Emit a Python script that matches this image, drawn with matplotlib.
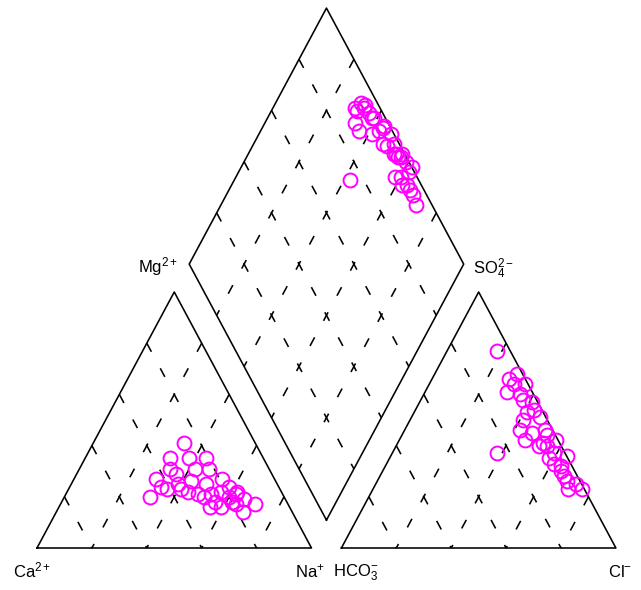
import numpy as np
import matplotlib.pyplot as plt

plt.rcParams['font.family'] = ['Liberation Sans', 'DejaVu Sans']
plt.rcParams['mathtext.fontset'] = 'custom'
plt.rcParams['mathtext.rm'] = 'Liberation Sans'
plt.rcParams['mathtext.it'] = 'Liberation Sans:italic'
plt.rcParams['lines.scale_dashes'] = False

# --- sample composition (meq %) ---
ca = np.array([43, 34, 49, 26, 43, 36, 41, 35, 27, 36, 36, 27, 31, 34, 21,
               22, 31, 26, 29, 26, 19, 22, 26, 25, 20, 17, 18, 12,
               20, 19, 15, 18, 29, 16])
mg = np.array([27, 35, 20, 41, 24, 31, 23, 29, 35, 25, 23, 31, 26, 22, 35,
               31, 21, 25, 20, 21, 27, 22, 18, 16, 18, 21, 14, 17,
               20, 17, 19, 24, 16, 22])
na = np.array([30, 31, 31, 33, 33, 33, 36, 36, 38, 39, 41, 42, 43, 44, 44,
               47, 48, 49, 51, 53, 54, 56, 56, 59, 62, 62, 68, 71,
               60, 64, 66, 58, 55, 62])
hco3 = np.array([9, 6, 9, 6, 12, 5, 5, 12, 5, 4, 8, 25, 5, 3, 2,
                 6, 1, 5, 2, 4, 3, 1, 2, 1, 0, 2, 5, 6,
                 6, 5, 5, 8, 3, 7])
so4 = np.array([61, 66, 50, 53, 42, 77, 58, 46, 64, 32, 45, 37, 60, 54, 68,
                41, 64, 40, 57, 37, 46, 42, 51, 23, 36, 25, 28, 23,
                33, 30, 26, 40, 44, 35])
cl = np.array([30, 28, 41, 41, 46, 18, 37, 42, 31, 64, 47, 38, 35, 43, 30,
               53, 35, 55, 41, 59, 51, 57, 47, 76, 64, 73, 67, 71,
               61, 65, 69, 52, 53, 58])

GAP = 0.109            # gap between the two triangles
H = np.sqrt(3) / 2
ticks = [0.2, 0.4, 0.6, 0.8]


# --- piper projection ---
def cation_xy(ca, mg, na):
    tot = ca + mg + na
    m, n = mg / tot, na / tot
    return n + m / 2, H * m


def anion_xy(hco3, so4, cl):
    tot = hco3 + so4 + cl
    s, c = so4 / tot, cl / tot
    return 1 + GAP + c + s / 2, H * s


def diamond_xy(ca, mg, na, hco3, so4, cl):
    n = na / (ca + mg + na)
    h = hco3 / (hco3 + so4 + cl)
    return (n + 2 + GAP - h) / 2, H * (2 + GAP - h - n)


fig = plt.figure(figsize=(6.41, 5.90), dpi=100)
ax = fig.add_axes([0, 0, 1, 1])
ax.set_xlim(-0.1348, 2.2004)
ax.set_ylim(-0.1421, 1.8539)
ax.axis('off')

dash = (0, (7, 13.5))


def dashed(p0, p1):
    ax.plot([p0[0], p1[0]], [p0[1], p1[1]], color='black', lw=1.15, ls=dash)


# triangles
for x0 in [0, 1 + GAP]:
    ax.plot([x0, x0 + 1, x0 + 0.5, x0], [0, 0, H, 0], color='black', lw=1.15)
    for a in ticks:
        dashed((x0 + a + (1 - a) / 2, H * (1 - a)), (x0 + a, 0))
        dashed((x0 + (1 - a) / 2, H * (1 - a)), (x0 + 1 - a, 0))

# diamond
bx, by = 1 + GAP / 2, H * GAP
ax.plot([bx, bx + 0.5, bx, bx - 0.5, bx], [by, by + H, by + 2 * H, by + H, by],
        color='black', lw=1.15)
for t in ticks:
    sx, sy = bx - 0.5 * t, by + H * t
    dashed((sx + 0.5, sy + H), (sx, sy))
    sx, sy = bx + 0.5 * t, by + H * t
    dashed((sx - 0.5, sy + H), (sx, sy))

# samples
style = dict(ls='none', marker='o', ms=10, mfc='none', mec='#ff00ff', mew=1.4, zorder=5)
ax.plot(*cation_xy(ca, mg, na), **style)
ax.plot(*anion_xy(hco3, so4, cl), **style)
ax.plot(*diamond_xy(ca, mg, na, hco3, so4, cl), **style)

# labels
fs = 12
ax.text(-0.087, -0.098, r'Ca$^{2+}$', fontsize=fs, ha='left', va='baseline')
ax.text(1.049, -0.098, r'Na$^{+}$', fontsize=fs, ha='right', va='baseline')
ax.text(1.078, -0.098, r'HCO$_3^{-}$', fontsize=fs, ha='left', va='baseline')
ax.text(2.080, -0.098, r'Cl$^{-}$', fontsize=fs, ha='left', va='baseline')
ax.text(0.514, 0.934, r'Mg$^{2+}$', fontsize=fs, ha='right', va='baseline')
ax.text(1.588, 0.927, r'SO$_4^{2-}$', fontsize=fs, ha='left', va='baseline')

fig.savefig('out.png', dpi=100)
